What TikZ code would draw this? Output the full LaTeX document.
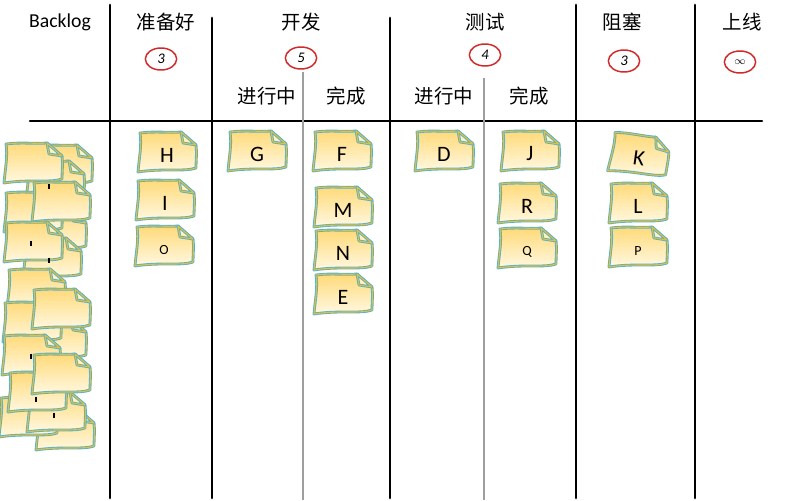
\documentclass[tikz,border=0pt]{standalone}
\usepackage{fontspec}
\setmainfont{Carlito}
\newfontfamily\cjk{Noto Sans CJK SC}
\usepackage{tikz}
\usetikzlibrary{shapes.geometric,positioning}
\definecolor{noteTop}{HTML}{FFD976}
\definecolor{noteBot}{HTML}{FFF8E2}
\definecolor{noteFlap}{HTML}{FFF1C2}
\definecolor{noteBlue}{HTML}{55B2CA}
\definecolor{noteGold}{HTML}{E6BE3A}
\definecolor{limitRed}{HTML}{D02A2A}
\tikzstyle{colhead}=[font=\cjk\fontsize{14.6}{17}\selectfont, inner sep=0pt]
\tikzstyle{limit}=[draw=limitRed, line width=1.1pt, ellipse, minimum width=23.5pt, minimum height=16.5pt, inner sep=0pt, font=\fontsize{11}{12}\selectfont\itshape]
\tikzstyle{board}=[line width=2.2pt, line cap=round]
\tikzstyle{lane}=[line width=1.1pt, draw=black!38]
\tikzstyle{letter}=[font=\fontsize{16.5}{18}\selectfont, inner sep=0pt]
\tikzstyle{tiny}=[font=\fontsize{10.5}{12}\selectfont, inner sep=0pt]
\tikzstyle{noteline}=[draw=noteBlue, double=noteGold, double distance=0.8pt, line width=0.65pt, line join=round]
\tikzset{pics/sticky/.style={code={
  \path[noteline, top color=noteTop, bottom color=noteBot]
    (-27,-20) .. controls (-12,-22) and (2,-20) .. (14,-21) -- (29,-8)
    .. controls (30,0) and (29,8) .. (29,15)
    .. controls (18,19) and (-4,15) .. (-29,19)
    .. controls (-28,6) and (-25,-8) .. cycle;
  \path[noteline, fill=noteFlap] (14,-21) .. controls (15,-15) .. (16,-10) -- (29,-8) -- cycle;
}}}

\begin{document}
\begin{tikzpicture}[x=0.75pt,y=-0.75pt]
\useasboundingbox (0,0) rectangle (800,500);
% board
\draw[board, line width=1.6pt] (30,121) -- (762,121);
\foreach \x/\t in {110/5,212/18,390/18,576/5,695/5}
  \draw[board] (\x,\t) -- (\x,498);
\draw[lane] (303,72) -- (303,500);
\draw[lane] (484,78) -- (484,500);

% column heads
\node[colhead, font=\fontsize{14.8}{17}\selectfont] (backlog) at (60,22) {Backlog};
\node[colhead] (ready) at (166,22) {准备好};
\node[colhead] (dev) at (301,22) {开发};
\node[colhead] (test) at (485,22) {测试};
\node[colhead] (blocked) at (622,22) {阻塞};
\node[colhead] (live) at (742,22) {上线};
\node[colhead] (devDoing) at (267,96) {进行中};
\node[colhead] (devDone) at (346,96) {完成};
\node[colhead] (testDoing) at (444,96) {进行中};
\node[colhead] (testDone) at (529,96) {完成};

% limits
\node[limit] (readyLimit) at (161,59) {3};
\node[limit] (devLimit) at (301,58) {5};
\node[limit] (testLimit) at (485,55) {4};
\node[limit] (blockedLimit) at (624,61) {3};
\node[limit, font=\fontsize{8}{9}\selectfont] (liveLimit) at (740,62) {$\infty$};

% backlog pile
\foreach \x/\y in {63/166,55/182,33/164,57/231,33/213,61/203,52/259,33/243,
    36/290,57/340,32/323,61/310,31/356,65/431,28/418,56/413,37/393,61/375}
  \pic at (\x,\y) {sticky};
\foreach \x/\y in {49/186,31/243,49/260,31/356,36/399,54/415}
  \draw[line width=1pt] (\x,\y-2.5) -- (\x,\y+2.5);

% cards
\foreach \n/\x/\y in {H/167/153,I/165/201,G/257/152,F/342/152,M/343/208,N/343/251,
    E/343/295,D/444/152,J/530/152,R/527/204,L/638/204}{
  \pic at (\x,\y) {sticky};
  \node[letter] (card\n) at (\x,\y+2) {\n};
}
\foreach \n/\x/\y in {O/164/247,Q/527/249,P/638/248}{
  \pic at (\x,\y) {sticky};
  \node[tiny] (card\n) at (\x,\y+3) {\n};
}
\pic[rotate=-8] at (639,156) {sticky};
\node[letter, rotate=-8] (cardK) at (639,158) {K};
\end{tikzpicture}
\end{document}
